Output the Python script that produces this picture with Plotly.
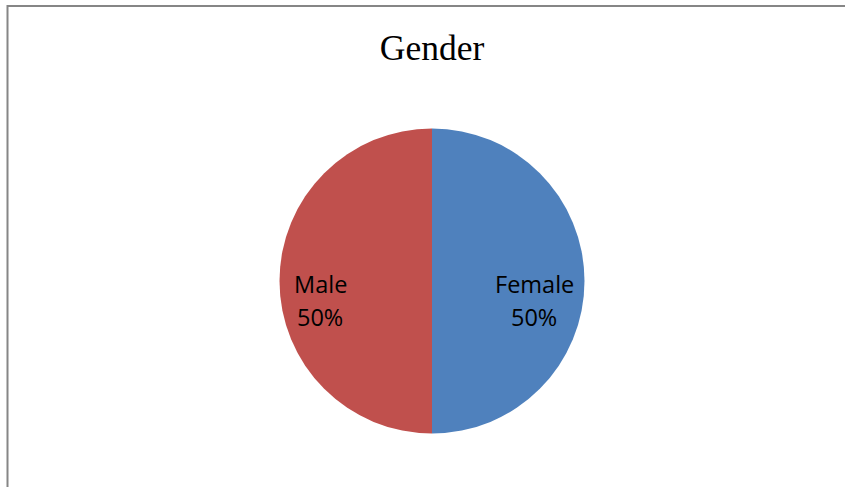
import plotly.graph_objects as go

labels = ["Female", "Male"]
values = [50, 50]
colors = ["#4F81BD", "#C0504D"]
title_text = "Gender"

W, H = 845, 487
cx, cy, r = 432, 281, 152.5
# label anchor positions (pixels) for each slice, Female then Male
label_px = [534, 320]
line1_py, line2_py = 284, 317

fig = go.Figure(go.Pie(
    labels=labels,
    values=values,
    marker=dict(colors=colors, line=dict(width=0)),
    sort=False,
    direction="clockwise",
    rotation=0,
    textinfo="none",
    domain=dict(x=[(cx - r) / W, (cx + r) / W], y=[(H - cy - r) / H, (H - cy + r) / H]),
    showlegend=False,
    hoverinfo="label+percent",
))

total = sum(values)
annotations = []
lab_font = dict(family="Open Sans", size=23.5, color="#000000")
for lab, val, px in zip(labels, values, label_px):
    pct = f"{round(100 * val / total)}%"
    annotations.append(dict(text=lab, x=px / W, y=(H - line1_py) / H, xref="paper", yref="paper",
                            xanchor="center", yanchor="middle", showarrow=False, font=lab_font))
    annotations.append(dict(text=pct, x=px / W, y=(H - line2_py) / H, xref="paper", yref="paper",
                            xanchor="center", yanchor="middle", showarrow=False, font=lab_font))

fig.update_layout(
    width=W, height=H,
    margin=dict(l=0, r=0, t=0, b=0),
    paper_bgcolor="white",
    plot_bgcolor="white",
    title=dict(text=title_text, x=cx / W, xanchor="center", y=(H - 48) / H, yanchor="middle",
               font=dict(family="Liberation Serif", size=35.5, color="#000000")),
    annotations=annotations,
    shapes=[
        dict(type="line", xref="paper", yref="paper", x0=7 / W, x1=1, y0=(H - 6) / H, y1=(H - 6) / H,
             line=dict(color="#868686", width=2)),
        dict(type="line", xref="paper", yref="paper", x0=7.5 / W, x1=7.5 / W, y0=0, y1=(H - 5) / H,
             line=dict(color="#868686", width=2)),
    ],
)

fig.write_html("out.html")
